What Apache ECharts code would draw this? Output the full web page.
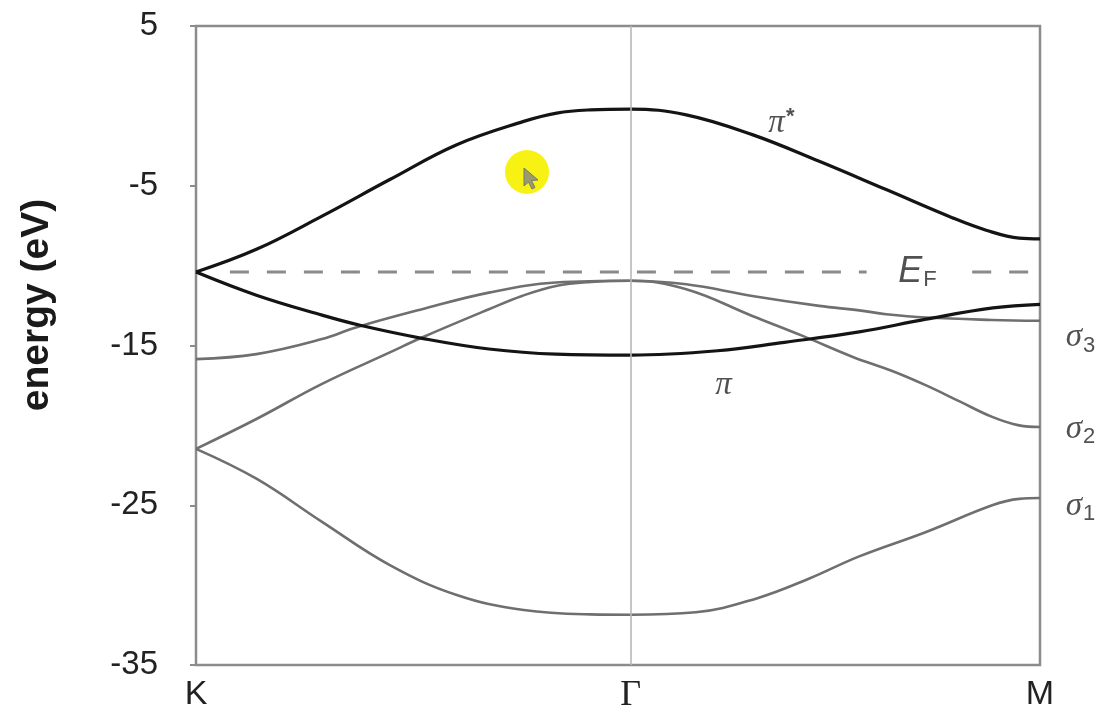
<!DOCTYPE html>
<html>
<head>
<meta charset="utf-8">
<title>Graphene band structure</title>
<script src="https://cdn.jsdelivr.net/npm/echarts@6/dist/echarts.min.js"></script>
<style>
  html, body { margin: 0; padding: 0; background: #ffffff; }
  #chart { width: 1114px; height: 714px; }
</style>
</head>
<body>
<div id="chart"></div>
<script>
// Path coordinate along K -> Γ -> M (K–Γ length taken as 1)
const kPoints = [0, 1, 1.942];
const kNames = ['K', 'Γ', 'M'];

// Energy axis (eV)
const energyMin = -35;
const energyMax = 5;
const energyStep = 10;

// Fermi level and the stretches of k where its dashed line is drawn
const fermiLevel = -10.4;
const fermiSpans = [[0.078, 1.543], [1.786, 1.942]];

// Bands: [k, energy in eV]
const piStarBand = [
  [0, -10.4], [0.139, -8.98], [0.29, -6.9], [0.446, -4.61], [0.6, -2.43],
  [0.754, -0.97], [0.83, -0.45], [0.908, -0.25], [1, -0.2], [1.128, -0.56],
  [1.28, -1.8], [1.434, -3.47], [1.588, -5.24], [1.74, -7.0], [1.818, -7.78],
  [1.894, -8.28], [1.942, -8.33]
];
const piBand = [
  [0, -10.4], [0.139, -11.85], [0.29, -13.1], [0.38, -13.75], [0.52, -14.55],
  [0.674, -15.22], [0.828, -15.54], [1, -15.6], [1.2, -15.33], [1.354, -14.8],
  [1.526, -14.15], [1.68, -13.35], [1.834, -12.65], [1.942, -12.42]
];
const sigma3Band = [
  [0, -15.85], [0.139, -15.54], [0.29, -14.6], [0.368, -13.87], [0.52, -12.73],
  [0.674, -11.69], [0.828, -11.06], [1, -10.95], [1.128, -11.17], [1.28, -11.9],
  [1.434, -12.52], [1.526, -12.8], [1.588, -13.04], [1.68, -13.25], [1.832, -13.4],
  [1.942, -13.45]
];
const sigma2Band = [
  [0, -21.47], [0.139, -19.6], [0.29, -17.4], [0.446, -15.43], [0.52, -14.5],
  [0.674, -12.73], [0.75, -11.9], [0.828, -11.27], [0.908, -11.02], [1, -10.95],
  [1.128, -11.48], [1.28, -13.15], [1.396, -14.4], [1.51, -15.7], [1.602, -16.6],
  [1.68, -17.5], [1.757, -18.5], [1.832, -19.47], [1.894, -20.0], [1.942, -20.1]
];
const sigma1Band = [
  [0, -21.47], [0.139, -23.34], [0.29, -26.04], [0.446, -28.75], [0.6, -30.62],
  [0.754, -31.56], [0.908, -31.83], [1, -31.85], [1.15, -31.7], [1.29, -30.83],
  [1.41, -29.6], [1.526, -28.2], [1.68, -26.67], [1.832, -25.0], [1.894, -24.6],
  [1.942, -24.55]
];

// Band names placed next to their curves: [k, energy]
const bandLabels = [
  { text: '{g|π}{sup|*}', at: [1.347, -1.1] },
  { text: '{g|π}', at: [1.214, -17.5] },
  { text: '{e|E}{sub|F}', at: [1.66, -10.4] },
  { text: '{g|σ}{sub|3}', at: [2.035, -14.5] },
  { text: '{g|σ}{sub|2}', at: [2.035, -20.25] },
  { text: '{g|σ}{sub|1}', at: [2.035, -25.05] }
];

const piColor = '#141414';
const sigmaColor = '#6f6f6f';

function bandSeries(name, data, color, width) {
  return {
    name: name,
    type: 'line',
    data: data,
    smooth: 0.4,
    showSymbol: false,
    symbol: 'none',
    lineStyle: { color: color, width: width },
    z: 3
  };
}

const series = [
  bandSeries('σ1', sigma1Band, sigmaColor, 2.6),
  bandSeries('σ2', sigma2Band, sigmaColor, 2.6),
  bandSeries('σ3', sigma3Band, sigmaColor, 2.6),
  bandSeries('π', piBand, piColor, 3.2),
  bandSeries('π*', piStarBand, piColor, 3.2)
];

// Fermi level, dashed
fermiSpans.forEach(function (span, i) {
  series.push({
    name: 'EF' + i,
    type: 'line',
    data: [[span[0], fermiLevel], [span[1], fermiLevel]],
    showSymbol: false,
    symbol: 'none',
    lineStyle: { color: '#8a8a8a', width: 3, type: [19, 18] },
    z: 2
  });
});

// Γ marker line
series.push({
  name: 'Gamma',
  type: 'line',
  data: [],
  markLine: {
    silent: true,
    symbol: 'none',
    label: { show: false },
    lineStyle: { color: '#b8b8b8', width: 1.6, type: 'solid' },
    data: [{ xAxis: kPoints[1] }]
  }
});

// Text labels for bands and Fermi level
series.push({
  name: 'labels',
  type: 'scatter',
  clip: false,
  symbolSize: 0,
  z: 5,
  data: bandLabels.map(function (b) {
    return {
      value: b.at,
      label: {
        show: true,
        position: 'inside',
        formatter: b.text,
        rich: {
          g: { fontFamily: 'Liberation Serif', fontStyle: 'italic', fontSize: 33, color: '#262626', lineHeight: 36 },
          e: { fontFamily: 'Liberation Sans', fontStyle: 'italic', fontSize: 36, color: '#262626', lineHeight: 38 },
          sub: { fontFamily: 'Liberation Sans', fontSize: 22, color: '#262626', lineHeight: 22, padding: [16, 0, 0, 1] },
          sup: { fontFamily: 'Liberation Sans', fontWeight: 'bold', fontSize: 22, color: '#262626', lineHeight: 22, padding: [0, 0, 14, 1] }
        }
      }
    };
  })
});

const chart = echarts.init(document.getElementById('chart'), null, { renderer: 'canvas' });

chart.setOption({
  animation: false,
  backgroundColor: '#ffffff',
  grid: {
    left: 196,
    right: 74,
    top: 26,
    bottom: 47,
    show: true,
    borderColor: '#8c8c8c',
    borderWidth: 2.5,
    backgroundColor: 'transparent'
  },
  xAxis: {
    type: 'value',
    min: kPoints[0],
    max: kPoints[2],
    axisLine: { show: false },
    axisTick: { show: false },
    splitLine: { show: false },
    axisLabel: {
      customValues: kPoints,
      margin: 13,
      formatter: function (v) {
        const i = kPoints.indexOf(v);
        if (i < 0) return '';
        return kNames[i] === 'Γ' ? '{g|Γ}' : '{s|' + kNames[i] + '}';
      },
      rich: {
        s: { fontFamily: 'Liberation Sans', fontSize: 34, color: '#222' },
        g: { fontFamily: 'Liberation Serif', fontSize: 36, color: '#222' }
      }
    }
  },
  yAxis: {
    type: 'value',
    min: energyMin,
    max: energyMax,
    interval: energyStep,
    axisLine: { show: false },
    axisTick: { show: true, length: 6, lineStyle: { color: '#8c8c8c', width: 2 } },
    splitLine: { show: false },
    axisLabel: {
      margin: 38,
      fontFamily: 'Liberation Sans',
      fontSize: 33,
      color: '#222'
    }
  },
  graphic: [
    {
      type: 'text',
      x: 37,
      y: 305,
      rotation: Math.PI / 2,
      style: {
        text: 'energy (eV)',
        x: 0,
        y: 0,
        align: 'center',
        verticalAlign: 'middle',
        fontFamily: 'Liberation Sans',
        fontWeight: 'bold',
        fontSize: 39,
        fill: '#1a1a1a'
      }
    },
    {
      type: 'circle',
      shape: { cx: 527, cy: 172, r: 22 },
      style: { fill: 'rgba(246, 240, 0, 0.92)' },
      z: 10
    },
    {
      type: 'polygon',
      shape: { points: [[524, 168], [524, 186], [528.5, 182], [532, 189], [535, 187.5], [531.5, 180.5], [538, 180]] },
      style: { fill: '#9a9a70', stroke: '#7a7a60', lineWidth: 1 },
      z: 11
    }
  ],
  series: series
});
</script>
</body>
</html>
